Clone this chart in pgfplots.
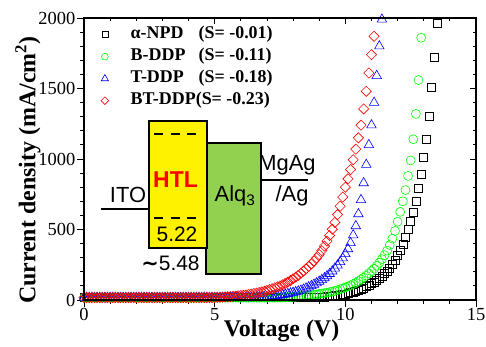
\documentclass[border=0pt]{standalone}
\usepackage{fontspec}
\setmainfont{Liberation Serif}
\newfontfamily\arial{Liberation Sans}
\newfontfamily\dejavu{DejaVu Sans}
\usepackage{pgfplots}
\pgfplotsset{compat=1.18}
\definecolor{alqgreen}{RGB}{146,208,80}
\definecolor{pgreen}{RGB}{0,255,0}
\definecolor{pblue}{RGB}{0,0,255}
\definecolor{pred}{RGB}{255,0,0}
\begin{document}
\begin{tikzpicture}
\useasboundingbox (0,0) rectangle (486bp,347bp);
\begin{axis}[
  at={(84bp,47bp)}, anchor=south west,
  scale only axis, width=392bp, height=282bp,
  xmin=0, xmax=15, ymin=0, ymax=2000,
  xtick={0,5,10,15}, ytick={0,500,1000,1500,2000},
  minor x tick num=4, minor y tick num=4,
  xtick pos=left, ytick pos=left, tick align=outside,
  major tick length=7bp, minor tick length=4bp,
  axis line style={line width=1.1bp},
  tick style={line width=0.8bp, black},
  /pgf/number format/assume math mode=true,
  /pgf/number format/1000 sep={},
  xticklabel={\pgfmathprintnumber[assume math mode=true,1000 sep={}]{\tick}},
  yticklabel={\pgfmathprintnumber[assume math mode=true,1000 sep={}]{\tick}},
  tick label style={font=\rmfamily\fontsize{18.5}{18.5}\selectfont, inner sep=1.5bp},
  xlabel={Voltage (V)},
  ylabel={Current density (mA/cm\textsuperscript{2})},
  label style={font=\fontsize{24}{24}\selectfont\bfseries},
  xlabel style={at={(axis description cs:0.504,-0.11)}, anchor=center},
  ylabel style={at={(axis description cs:-0.143,0.46)}, anchor=center},
  legend style={at={(rel axis cs:0.043,0.97)}, anchor=north west, draw=none, fill=none,
    inner sep=0pt, font=\fontsize{18}{18}\selectfont\bfseries, row sep=6bp,
    nodes={inner sep=0pt, text height=12bp, text depth=4bp},
    /tikz/every odd column/.append style={column sep=22bp}},
  legend cell align=left,
  legend image post style={/tikz/every mark/.append style={scale=0.75}},
]
\addplot[only marks, mark=square, mark size=4bp, line width=0.6bp, draw=black] coordinates {
(0,17)(0.1,17)(0.2,17)(0.3,17)(0.4,17)(0.5,17)(0.6,17)(0.7,17)(0.8,17)(0.9,17)
(1,17)(1.1,17)(1.2,17)(1.3,17)(1.4,17)(1.5,17)(1.6,17)(1.7,17)(1.8,17)(1.9,17)
(2,17)(2.1,17)(2.2,17)(2.3,17)(2.4,17)(2.5,17)(2.6,17)(2.7,17)(2.8,17)(2.9,17)
(3,17)(3.1,17)(3.2,17)(3.3,17)(3.4,17)(3.5,17)(3.6,17)(3.7,17)(3.8,17)(3.9,17)
(4,17)(4.1,17)(4.2,17)(4.3,17)(4.4,17)(4.5,17)(4.6,17)(4.7,17)(4.8,17)(4.9,17)
(5,17)(5.1,17)(5.2,17)(5.3,17)(5.4,17)(5.5,17)(5.6,17)(5.7,17)(5.8,17)(5.9,17)
(6,17)(6.1,17)(6.2,17)(6.3,17)(6.4,17)(6.5,17)(6.6,17)(6.7,17)(6.8,17)(6.9,17)
(7,17)(7.1,17)(7.2,17)(7.3,17)(7.4,17)(7.5,17)(7.6,17)(7.7,17)(7.8,17)(7.9,17)
(8,17)(8.1,17)(8.2,17)(8.3,17)(8.4,17)(8.5,17)(8.6,17)(8.7,17)(8.8,18)(8.9,19)
(9,20)(9.1,21)(9.2,22)(9.3,24)(9.4,26)(9.5,28)(9.6,30)(9.7,33)(9.8,36)(9.9,39)
(10,43)(10.1,47)(10.2,52)(10.3,57)(10.4,63)(10.5,70)(10.6,77)(10.7,85)(10.8,94)(10.9,104)
(11,115)(11.1,127)(11.2,140)(11.3,154)(11.4,170)(11.5,187)(11.6,206)(11.7,228)(11.8,253)(11.9,282)
(12,315)(12.1,352)(12.2,395)(12.3,445)(12.4,500)(12.5,560)(12.6,625)(12.7,700)(12.8,790)(12.9,895)
(13,1010)(13.1,1140)(13.2,1300)(13.3,1510)(13.4,1720)(13.5,1965)
};
\addlegendentry{\makebox[68bp][l]{α-NPD}(S= -0.01)}
\addplot[only marks, mark=o, mark size=4.5bp, line width=0.6bp, draw=pgreen] coordinates {
(0,17)(0.1,17)(0.2,17)(0.3,17)(0.4,17)(0.5,17)(0.6,17)(0.7,17)(0.8,17)(0.9,17)
(1,17)(1.1,17)(1.2,17)(1.3,17)(1.4,17)(1.5,17)(1.6,17)(1.7,17)(1.8,17)(1.9,17)
(2,17)(2.1,17)(2.2,17)(2.3,17)(2.4,17)(2.5,17)(2.6,17)(2.7,17)(2.8,17)(2.9,17)
(3,17)(3.1,17)(3.2,17)(3.3,17)(3.4,17)(3.5,17)(3.6,17)(3.7,17)(3.8,17)(3.9,17)
(4,17)(4.1,17)(4.2,17)(4.3,17)(4.4,17)(4.5,17)(4.6,17)(4.7,17)(4.8,17)(4.9,17)
(5,17)(5.1,17)(5.2,17)(5.3,17)(5.4,17)(5.5,17)(5.6,17)(5.7,17)(5.8,17)(5.9,17)
(6,17)(6.1,17)(6.2,17)(6.3,17)(6.4,17)(6.5,17)(6.6,17)(6.7,17)(6.8,17)(6.9,17)
(7,17)(7.1,17)(7.2,17)(7.3,17)(7.4,17)(7.5,17)(7.6,18)(7.7,19)(7.8,20)(7.9,21)
(8,22)(8.1,23)(8.2,25)(8.3,27)(8.4,29)(8.5,31)(8.6,33)(8.7,35)(8.8,37)(8.9,40)
(9,43)(9.1,46)(9.2,49)(9.3,52)(9.4,56)(9.5,60)(9.6,65)(9.7,70)(9.8,76)(9.9,82)
(10,89)(10.1,96)(10.2,104)(10.3,113)(10.4,123)(10.5,134)(10.6,146)(10.7,159)(10.8,173)(10.9,188)
(11,204)(11.1,222)(11.2,242)(11.3,264)(11.4,290)(11.5,318)(11.6,350)(11.7,390)(11.8,435)(11.9,490)
(12,555)(12.1,625)(12.2,700)(12.3,780)(12.4,880)(12.5,990)(12.6,1140)(12.7,1320)(12.8,1560)(12.9,1860)
};
\addlegendentry{\makebox[68bp][l]{B-DDP}(S= -0.11)}
\addplot[only marks, mark=triangle, mark size=5.5bp, line width=0.6bp, draw=pblue] coordinates {
(0,17)(0.1,17)(0.2,17)(0.3,17)(0.4,17)(0.5,17)(0.6,17)(0.7,17)(0.8,17)(0.9,17)
(1,17)(1.1,17)(1.2,17)(1.3,17)(1.4,17)(1.5,17)(1.6,17)(1.7,17)(1.8,17)(1.9,17)
(2,17)(2.1,17)(2.2,17)(2.3,17)(2.4,17)(2.5,17)(2.6,17)(2.7,17)(2.8,17)(2.9,17)
(3,17)(3.1,17)(3.2,17)(3.3,17)(3.4,17)(3.5,17)(3.6,17)(3.7,17)(3.8,17)(3.9,17)
(4,17)(4.1,17)(4.2,17)(4.3,17)(4.4,17)(4.5,17)(4.6,17)(4.7,17)(4.8,17)(4.9,17)
(5,17)(5.1,17)(5.2,17)(5.3,17)(5.4,17)(5.5,17)(5.6,17)(5.7,17)(5.8,17)(5.9,17)
(6,17)(6.1,17)(6.2,17)(6.3,17)(6.4,17)(6.5,17)(6.6,18)(6.7,19)(6.8,20)(6.9,21)
(7,23)(7.1,25)(7.2,27)(7.3,29)(7.4,31)(7.5,34)(7.6,37)(7.7,40)(7.8,44)(7.9,48)
(8,52)(8.1,57)(8.2,62)(8.3,68)(8.4,75)(8.5,83)(8.6,91)(8.7,100)(8.8,110)(8.9,120)
(9,131)(9.1,143)(9.2,156)(9.3,170)(9.4,186)(9.5,204)(9.6,224)(9.7,246)(9.8,270)(9.9,297)
(10,327)(10.1,362)(10.2,405)(10.3,460)(10.4,525)(10.5,610)(10.6,710)(10.7,830)(10.8,960)(10.9,1100)
(11,1240)(11.1,1400)(11.2,1590)(11.3,1800)(11.4,1990)
};
\addlegendentry{\makebox[68bp][l]{T-DDP}(S= -0.18)}
\addplot[only marks, mark=square, mark size=3.6bp, mark options={rotate=45}, line width=0.6bp, draw=pred] coordinates {
(0,17)(0.1,17)(0.2,17)(0.3,17)(0.4,17)(0.5,17)(0.6,17)(0.7,17)(0.8,17)(0.9,17)
(1,17)(1.1,17)(1.2,17)(1.3,17)(1.4,17)(1.5,17)(1.6,17)(1.7,17)(1.8,17)(1.9,17)
(2,17)(2.1,17)(2.2,17)(2.3,17)(2.4,17)(2.5,17)(2.6,17)(2.7,17)(2.8,17)(2.9,17)
(3,17)(3.1,17)(3.2,17)(3.3,17)(3.4,17)(3.5,17)(3.6,17)(3.7,17)(3.8,17)(3.9,17)
(4,17)(4.1,17)(4.2,17)(4.3,17)(4.4,17)(4.5,17)(4.6,17)(4.7,17)(4.8,17)(4.9,17)
(5,18)(5.1,19)(5.2,20)(5.3,21)(5.4,22)(5.5,23)(5.6,24)(5.7,26)(5.8,28)(5.9,30)
(6,32)(6.1,34)(6.2,36)(6.3,39)(6.4,42)(6.5,46)(6.6,49)(6.7,53)(6.8,57)(6.9,62)
(7,67)(7.1,74)(7.2,80)(7.3,86)(7.4,93)(7.5,100)(7.6,108)(7.7,117)(7.8,127)(7.9,138)
(8,150)(8.1,162)(8.2,175)(8.3,190)(8.4,205)(8.5,221)(8.6,238)(8.7,256)(8.8,276)(8.9,298)
(9,322)(9.1,350)(9.2,382)(9.3,418)(9.4,458)(9.5,502)(9.6,550)(9.7,605)(9.8,665)(9.9,730)
(10,800)(10.1,860)(10.2,925)(10.3,995)(10.4,1070)(10.5,1150)(10.6,1240)(10.7,1355)(10.8,1480)(10.9,1610)
(11,1740)(11.1,1870)(11.2,2010)
};
\addlegendentry{BT-DDP(S= -0.23)}
\end{axis}
\begin{axis}[
  at={(84bp,47bp)}, anchor=south west,
  scale only axis, width=392bp, height=282bp,
  xmin=0, xmax=15, ymin=0, ymax=2000,
  xtick={0,5,10,15}, ytick={0,500,1000,1500,2000},
  minor x tick num=4, minor y tick num=4,
  xtick pos=right, ytick pos=right, tick align=inside,
  xticklabels={}, yticklabels={},
  major tick length=6bp, minor tick length=3.5bp,
  axis line style={line width=1.1bp},
  tick style={line width=0.8bp, black},
]
\end{axis}
\begin{scope}[x=1bp, y=-1bp, shift={(0,347bp)}]
  \draw[line width=1.5bp] (101,209)--(149,209);
  \node[font=\arial\fontsize{22}{22}\selectfont] at (128,195) {ITO};
  \draw[line width=1.5bp, fill=alqgreen] (206,143) rectangle (261,274);
  \draw[line width=1.5bp, fill=yellow] (149,121) rectangle (207,248);
  \draw[line width=2bp, dash pattern=on 9bp off 7.5bp] (154,134.3)--(200,134.3);
  \draw[line width=2bp, dash pattern=on 9bp off 7.5bp] (154,218.3)--(200,218.3);
  \node[text=red, font=\arial\bfseries\fontsize{23}{23}\selectfont] at (175.5,180) {HTL};
  \node[font=\arial\fontsize{21}{21}\selectfont] at (177,234.5) {5.22};
  \node[font=\arial\fontsize{21}{21}\selectfont] at (170.5,263.5) {{\dejavu\bfseries ∼}5.48};
  \node[font=\arial\fontsize{22}{22}\selectfont] at (235,196) {Alq\textsubscript{3}};
  \draw[line width=1.5bp] (261,180)--(308,180);
  \node[font=\arial\fontsize{22}{22}\selectfont] at (287,165) {MgAg};
  \node[font=\arial\fontsize{22}{22}\selectfont] at (292,196) {/Ag};
\end{scope}
\end{tikzpicture}
\end{document}
